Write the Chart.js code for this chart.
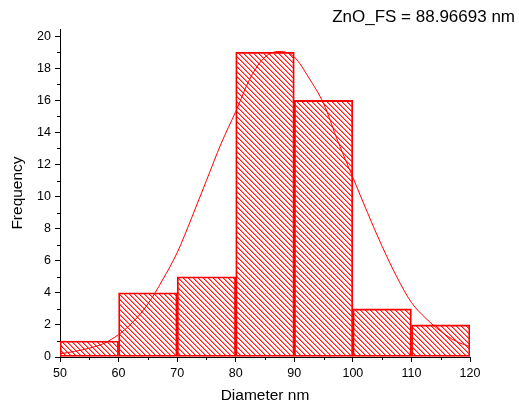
<!DOCTYPE html>
<html>
<head>
<meta charset="utf-8">
<script src="https://cdn.jsdelivr.net/npm/chart.js@4.4.0/dist/chart.umd.min.js"></script>
<style>
  html, body { margin: 0; padding: 0; background: #fff; }
  #wrap { width: 519px; height: 410px; }
</style>
</head>
<body>
<div id="wrap"><canvas id="histChart" width="519" height="410"></canvas></div>
<script>
// histogram bins (centres of 10 nm bins) and counts
const binCenters = [55, 65, 75, 85, 95, 105, 115];
const counts = [1, 4, 5, 19, 16, 3, 2];

// gaussian fit curve
const fitX = [50, 52.5, 55, 57.5, 60, 62.5, 65, 67.5, 70, 72.5, 75, 77.5, 80, 82.5, 85,
  87.5, 90, 92.5, 95, 97.5, 100, 102.5, 105, 107.5, 110, 112.5, 115, 117.5, 120];
const fitY = [0.2, 0.35, 0.55, 0.85, 1.4, 2.2, 3.3, 4.8, 6.5, 8.7, 11.0, 13.3, 15.3, 17.4, 18.7,
  19.05, 18.7, 17.4, 15.8, 13.4, 11.2, 9.0, 6.9, 5.0, 3.4, 2.4, 1.6, 1.0, 0.65];

const xTicks = [50, 60, 70, 80, 90, 100, 110, 120];
const xMinor = [55, 65, 75, 85, 95, 105, 115];
const yTicks = [0, 2, 4, 6, 8, 10, 12, 14, 16, 18, 20];
const yMinor = [1, 3, 5, 7, 9, 11, 13, 15, 17, 19];

const titleText = 'ZnO_FS = 88.96693 nm';
const FONT = 'Liberation Sans, Arial, sans-serif';

function hatch() {
  const c = document.createElement('canvas');
  c.width = 5; c.height = 5;
  const g = c.getContext('2d');
  g.fillStyle = 'rgba(255,0,0,0.9)';
  for (let i = 0; i < 5; i++) g.fillRect(i, i, 1, 1);
  g.fillStyle = 'rgba(255,0,0,0.45)';
  for (let i = 0; i < 5; i++) g.fillRect((i + 1) % 5, i, 1, 1);
  return g.createPattern(c, 'repeat');
}

const minorTicks = {
  id: 'minorTicks',
  afterDraw(chart) {
    const ctx = chart.ctx, xs = chart.scales.x, ys = chart.scales.y;
    ctx.save();
    ctx.strokeStyle = '#000';
    ctx.lineWidth = 1;
    ctx.beginPath();
    xMinor.forEach(v => {
      const p = Math.round(xs.getPixelForValue(v)) + 0.5;
      ctx.moveTo(p, xs.top); ctx.lineTo(p, xs.top + 3);
    });
    yMinor.forEach(v => {
      const p = Math.round(ys.getPixelForValue(v)) + 0.5;
      ctx.moveTo(ys.right, p); ctx.lineTo(ys.right - 3, p);
    });
    ctx.stroke();
    // title text top right
    ctx.fillStyle = '#000';
    ctx.font = '17px ' + FONT;
    ctx.textAlign = 'right';
    ctx.textBaseline = 'middle';
    ctx.fillText(titleText, 515, 17);
    ctx.restore();
  }
};

new Chart(document.getElementById('histChart'), {
  type: 'bar',
  data: {
    datasets: [{
      type: 'line',
      data: fitX.map((x, i) => ({ x: x, y: fitY[i] })),
      borderColor: '#ff0000',
      borderWidth: 1,
      pointRadius: 0,
      cubicInterpolationMode: 'monotone',
      fill: false,
      order: 0
    }, {
      data: binCenters.map((x, i) => ({ x: x, y: counts[i] })),
      backgroundColor: hatch(),
      borderColor: '#ff0000',
      borderWidth: 1.2,
      borderSkipped: false,
      barPercentage: 1,
      categoryPercentage: 1,
      order: 1
    }]
  },
  options: {
    responsive: false,
    animation: false,
    layout: { padding: { left: 0, right: 49, top: 29, bottom: 0 } },
    plugins: { legend: { display: false }, tooltip: { enabled: false } },
    scales: {
      x: {
        type: 'linear',
        min: 50, max: 120,
        offset: false,
        afterBuildTicks: s => { s.ticks = xTicks.map(v => ({ value: v })); },
        afterFit: s => { s.height = 53; },
        grid: { drawOnChartArea: false, offset: false, tickLength: 5, color: '#000' },
        border: { color: '#000', width: 1 },
        ticks: { color: '#000', font: { family: FONT, size: 12.5 }, padding: 4, maxRotation: 0 },
        title: { display: true, text: 'Diameter nm', color: '#000', font: { family: FONT, size: 15.5 }, padding: { top: 0, bottom: 5 } }
      },
      y: {
        min: 0, max: 20.45,
        afterBuildTicks: s => { s.ticks = yTicks.map(v => ({ value: v })); },
        afterFit: s => { s.width = 60; },
        grid: { drawOnChartArea: false, tickLength: 5, color: '#000' },
        border: { color: '#000', width: 1 },
        ticks: { color: '#000', font: { family: FONT, size: 12.5 }, padding: 4 },
        title: { display: true, text: 'Frequency', color: '#000', font: { family: FONT, size: 15.5 }, padding: { top: 8, bottom: 0 } }
      }
    }
  },
  plugins: [minorTicks]
});
</script>
</body>
</html>
